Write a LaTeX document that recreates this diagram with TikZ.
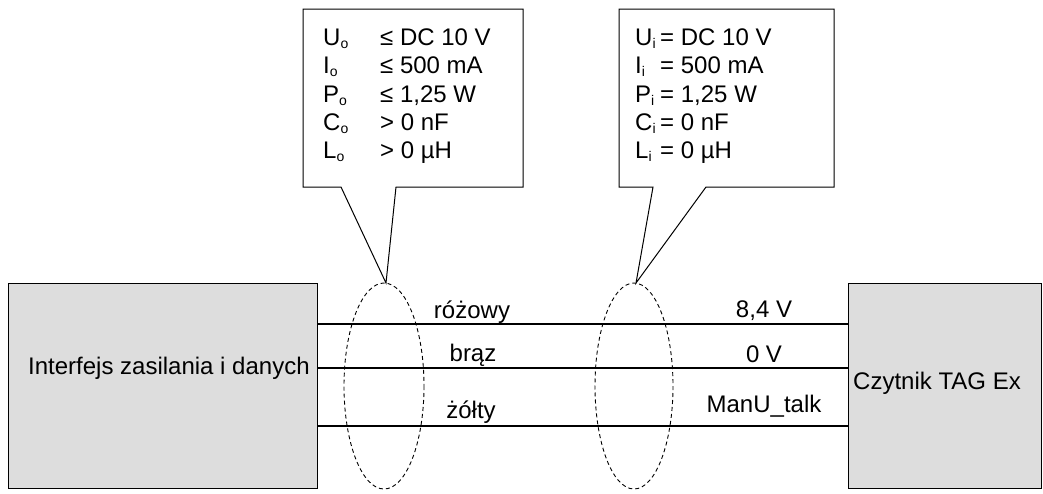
\documentclass[tikz,border=0pt]{standalone}
\usepackage{fontspec}
\setmainfont{Liberation Sans}
\newcommand\mysub[1]{\raisebox{-3pt}{\fontsize{14}{14}\selectfont #1}}
\begin{document}
\begin{tikzpicture}[x=1pt,y=-1pt,
  every node/.style={inner sep=0pt,font=\fontsize{24}{28}\selectfont},
  devbox/.style={draw=black,fill=boxgray,line width=1pt},
  wire/.style={draw=black,line width=1.1pt},
  bundle/.style={draw=black,dashed,dash pattern=on 4pt off 3pt,line width=0.9pt},
  callout/.style={draw=black,fill=white,line width=1pt,line join=miter},
  lbl/.style={anchor=base west},
  wlbl/.style={anchor=base}]
\definecolor{boxgray}{RGB}{221,221,221}
\useasboundingbox (0,0) rectangle (1043,493);
% device boxes
\draw[devbox] (8,283) rectangle (317,488);
\draw[devbox] (848,283) rectangle (1041,488);
\node[lbl] (ifc) at (28,374) {Interfejs zasilania i danych};
\node[lbl] (tag) at (853,389) {Czytnik TAG Ex};
% wires
\coordinate (w1a) at (317,324); \coordinate (w1b) at (848,324);
\coordinate (w2a) at (317,368); \coordinate (w2b) at (848,368);
\coordinate (w3a) at (317,426); \coordinate (w3b) at (848,426);
\draw[wire] (w1a) -- (w1b);
\draw[wire] (w2a) -- (w2b);
\draw[wire] (w3a) -- (w3b);
% wire labels
\node[wlbl] (c1) at (472,318) {różowy};
\node[wlbl] (c2) at (473,361) {brąz};
\node[wlbl] (c3) at (471,418) {żółty};
\node[wlbl] (v1) at (764,317) {8,4 V};
\node[wlbl] (v2) at (764,362) {0 V};
\node[wlbl] (v3) at (764,412) {ManU\_talk};
% bundles
\draw[bundle] (384,386) ellipse [x radius=40, y radius=103];
\draw[bundle] (634,386) ellipse [x radius=39, y radius=103];
\coordinate (e1top) at (386,283);
\coordinate (e2top) at (636,283);
% callouts
\draw[callout] (303,9) -- (523,9) -- (523,187) -- (396,187) -- (e1top) -- (341,187) -- (303,187) -- cycle;
\draw[callout] (619,9) -- (834,9) -- (834,187) -- (706,187) -- (e2top) -- (653,187) -- (619,187) -- cycle;
% callout 1 text
\node[lbl] (o1) at (323,45) {U\mysub{o}};
\node[lbl] (o2) at (323,73) {I\mysub{o}};
\node[lbl] (o3) at (323,102) {P\mysub{o}};
\node[lbl] (o4) at (323,130) {C\mysub{o}};
\node[lbl] (o5) at (323,158) {L\mysub{o}};
\node[lbl] (ov1) at (380,45) {≤ DC 10 V};
\node[lbl] (ov2) at (380,73) {≤ 500 mA};
\node[lbl] (ov3) at (380,102) {≤ 1,25 W};
\node[lbl] (ov4) at (380,130) {> 0 nF};
\node[lbl] (ov5) at (380,158) {> 0 µH};
% callout 2 text
\node[lbl] (i1) at (635,45) {U\mysub{i}};
\node[lbl] (i2) at (635,73) {I\mysub{i}};
\node[lbl] (i3) at (635,102) {P\mysub{i}};
\node[lbl] (i4) at (635,130) {C\mysub{i}};
\node[lbl] (i5) at (635,158) {L\mysub{i}};
\node[lbl] (iv1) at (660,45) {= DC 10 V};
\node[lbl] (iv2) at (660,73) {= 500 mA};
\node[lbl] (iv3) at (660,102) {= 1,25 W};
\node[lbl] (iv4) at (660,130) {= 0 nF};
\node[lbl] (iv5) at (660,158) {= 0 µH};
\end{tikzpicture}
\end{document}
